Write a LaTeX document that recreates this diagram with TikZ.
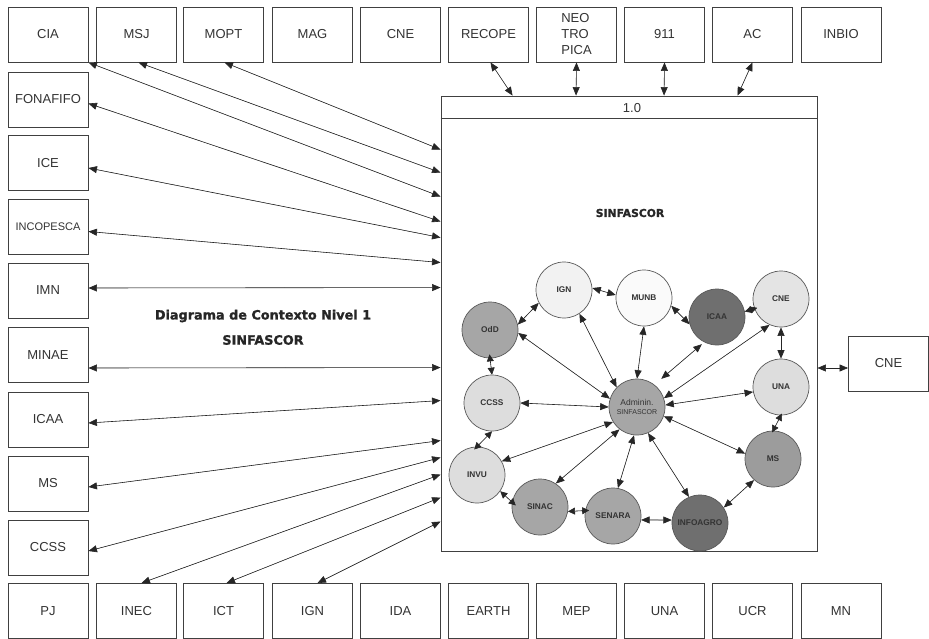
\documentclass[tikz,border=0pt]{standalone}
\usepackage{fontspec}
\setmainfont{Liberation Sans}
\newfontfamily\titlefont{DejaVu Sans}[BoldFeatures={FakeBold=1.3}]
\usetikzlibrary{arrows.meta}
\definecolor{cWhite}{HTML}{FAFAFA}
\definecolor{cVLight}{HTML}{F2F2F2}
\definecolor{cLight}{HTML}{DDDDDD}
\definecolor{cMid}{HTML}{A6A6A6}
\definecolor{cMidB}{HTML}{9C9C9C}
\definecolor{cDark}{HTML}{6F6F6F}
\begin{document}
\begin{tikzpicture}[x=1pt,y=-1pt,
 ent/.style={draw=black!75,line width=0.9pt,minimum width=80pt,minimum height=55pt,inner sep=0pt,text=black!80,font=\fontsize{13}{16}\selectfont},
 proc/.style={circle,draw=black!65,line width=0.7pt,minimum size=56pt,inner sep=0pt,text=black!80,font=\bfseries\fontsize{8.3}{10}\selectfont},
 flow/.style={{Triangle[length=8.5pt,width=7pt]}-{Triangle[length=8.5pt,width=7pt]},line width=0.6pt,draw=black!85,fill=black!90},
 sflow/.style={{Triangle[length=7pt,width=7pt]}-{Triangle[length=7pt,width=7pt]},line width=0.6pt,draw=black!85,fill=black!90},
]
\useasboundingbox[fill=white] (0,0) rectangle (929,639);

% top row
\node[ent] (tcia) at (48,34.5) {CIA};
\node[ent] (tmsj) at (136.5,34.5) {MSJ};
\node[ent] (tmopt) at (223.5,34.5) {MOPT};
\node[ent] (tmag) at (312.5,34.5) {MAG};
\node[ent] (tcne) at (400.5,34.5) {CNE};
\node[ent] (trecope) at (488.5,34.5) {RECOPE};
\node[ent,align=left] (tneo) at (576.5,34.5) {NEO\\TRO\\PICA};
\node[ent] (t911) at (664.5,34.5) {911};
\node[ent] (tac) at (752.5,34.5) {AC};
\node[ent] (tinbio) at (841,34.5) {INBIO};

% left column
\node[ent] (lfona) at (48,99.5) {FONAFIFO};
\node[ent] (lice) at (48,163) {ICE};
\node[ent,font=\fontsize{11}{13}\selectfont] (linco) at (48,226.5) {INCOPESCA};
\node[ent] (limn) at (48,290.5) {IMN};
\node[ent] (lminae) at (48,355) {MINAE};
\node[ent] (licaa) at (48,419.5) {ICAA};
\node[ent] (lms) at (48,483.5) {MS};
\node[ent] (lccss) at (48,547.5) {CCSS};

% bottom row
\node[ent] (bpj) at (48,611) {PJ};
\node[ent] (binec) at (136.5,611) {INEC};
\node[ent] (bict) at (223.5,611) {ICT};
\node[ent] (bign) at (312.5,611) {IGN};
\node[ent] (bida) at (400.5,611) {IDA};
\node[ent] (bearth) at (488.5,611) {EARTH};
\node[ent] (bmep) at (576.5,611) {MEP};
\node[ent] (buna) at (664.5,611) {UNA};
\node[ent] (bucr) at (752.5,611) {UCR};
\node[ent] (bmn) at (841,611) {MN};

% right
\node[ent] (rcne) at (888.5,363.5) {CNE};

% main process box
\node[draw=black!75,line width=0.9pt,minimum width=376pt,minimum height=455pt,inner sep=0pt] (big) at (629,323.5) {};
\draw[draw=black!75,line width=0.9pt] ([yshift=-23pt]big.north west) -- ([yshift=-23pt]big.north east);
\node[text=black!80,font=\fontsize{13}{16}\selectfont] (hdr) at (632,108) {1.0};
\node[text=black!85,font=\titlefont\bfseries\fontsize{10.8}{13}\selectfont] (sinf) at (630,213) {SINFASCOR};

% title
\node[text=black!85,font=\titlefont\bfseries\fontsize{12.8}{15}\selectfont] (ttl1) at (263,316) {Diagrama de Contexto Nivel 1};
\node[text=black!85,font=\titlefont\bfseries\fontsize{12.8}{15}\selectfont] (ttl2) at (263,340) {SINFASCOR};

% context flows
\draw[flow] (tcia.south east) -- ([yshift=-101pt]big.north west);
\draw[flow] ([xshift=2pt]tmsj.south) -- ([yshift=-77pt]big.north west);
\draw[flow] ([xshift=1pt]tmopt.south) -- ([yshift=-54pt]big.north west);
\draw[flow] ([yshift=-4pt]lfona.east) -- ([yshift=-126pt]big.north west);
\draw[flow] ([yshift=-5pt]lice.east) -- ([yshift=-142pt]big.north west);
\draw[flow] ([yshift=-5pt]linco.east) -- ([yshift=-167pt]big.north west);
\draw[flow] ([yshift=2.5pt]limn.east) -- ([yshift=-192pt]big.north west);
\draw[flow] ([yshift=-13pt]lminae.east) -- ([yshift=-272pt]big.north west);
\draw[flow] ([yshift=-3.5pt]licaa.east) -- ([yshift=-305pt]big.north west);
\draw[flow] ([yshift=-3.5pt]lms.east) -- ([yshift=-345pt]big.north west);
\draw[flow] ([yshift=-3.5pt]lccss.east) -- ([yshift=-362pt]big.north west);
\draw[flow] ([xshift=5pt]binec.north) -- ([yshift=-379pt]big.north west);
\draw[flow] ([xshift=3pt]bict.north) -- ([yshift=-402pt]big.north west);
\draw[flow] ([xshift=5pt]bign.north) -- ([yshift=-426pt]big.north west);
\draw[flow] ([xshift=2pt]trecope.south) -- ([xshift=72pt]big.north west);
\draw[flow] (tneo.south) -- ([xshift=135.5pt]big.north west);
\draw[flow] (t911.south) -- ([xshift=223.5pt]big.north west);
\draw[flow] (tac.south) -- ([xshift=297pt]big.north west);
\draw[flow] ([yshift=-4.5pt]rcne.west) -- ([yshift=-44.5pt]big.east);

% inner processes
\node[proc,fill=cVLight] (pign) at (564,290) {IGN};
\node[proc,fill=cWhite] (pmunb) at (644,298) {MUNB};
\node[proc,fill=cDark] (picaa) at (717,317) {ICAA};
\node[proc,fill=cLight!80!white] (pcne) at (781,299) {CNE};
\node[proc,fill=cMid] (podd) at (490,330) {OdD};
\node[proc,fill=cLight] (pccss) at (492,403) {CCSS};
\node[proc,fill=cMid,align=center,font=\fontsize{8.5}{10}\selectfont] (padm) at (637,407) {Adminin.\\[-1pt]{\fontsize{7}{8}\selectfont SINFASCOR}};
\node[proc,fill=cLight] (puna) at (781,387) {UNA};
\node[proc,fill=cLight] (pinvu) at (477,475) {INVU};
\node[proc,fill=cMid] (psinac) at (540,507) {SINAC};
\node[proc,fill=cMid] (psenara) at (613,516) {SENARA};
\node[proc,fill=cDark] (pinfo) at (700,523) {INFOAGRO};
\node[proc,fill=cMidB] (pms) at (773,459) {MS};

% inner flows
\draw[flow] (pign.4) -- (pmunb.174);
\draw[flow] (pmunb.-16) -- (picaa.195);
\draw[sflow,shorten >=-3pt] (picaa.11) -- (pcne.200);
\draw[flow] (podd.11) -- (pign.207);
\draw[flow] (podd.-6) -- (padm.163);
\draw[flow] (pign.-57) -- (padm.136);
\draw[flow] (pmunb.south) -- (padm.north);
\draw[flow,shorten <=3pt,shorten >=9pt] (picaa.243) -- (padm.52);
\draw[flow] (pcne.246) -- (padm.18);
\draw[flow] (pcne.south) -- (puna.north);
\draw[flow] (puna.190) -- (padm.4);
\draw[flow] (pccss.east) -- (padm.west);
\draw[sflow,shorten <=-4pt] (podd.south) -- (pccss.north);
\draw[sflow,shorten <=-2pt,shorten >=-2pt] (puna.south) -- (pms.north);
\draw[flow] (padm.-19) -- (pms.169);
\draw[sflow,shorten >=-4pt] (pccss.south) -- (pinvu.north);
\draw[flow] (padm.212) -- (pinvu.29);
\draw[flow] (padm.232) -- (psinac.56);
\draw[flow] (padm.264) -- (psenara.80);
\draw[flow] (padm.-67) -- (pinfo.113);
\draw[sflow,shorten >=-5pt] (pinvu.-35) -- (psinac.170);
\draw[sflow,shorten >=-4pt] (psinac.-9) -- (psenara.169);
\draw[flow] (psenara.-8) -- (pinfo.174);
\draw[flow] (pms.228) -- (pinfo.33);
\end{tikzpicture}
\end{document}
